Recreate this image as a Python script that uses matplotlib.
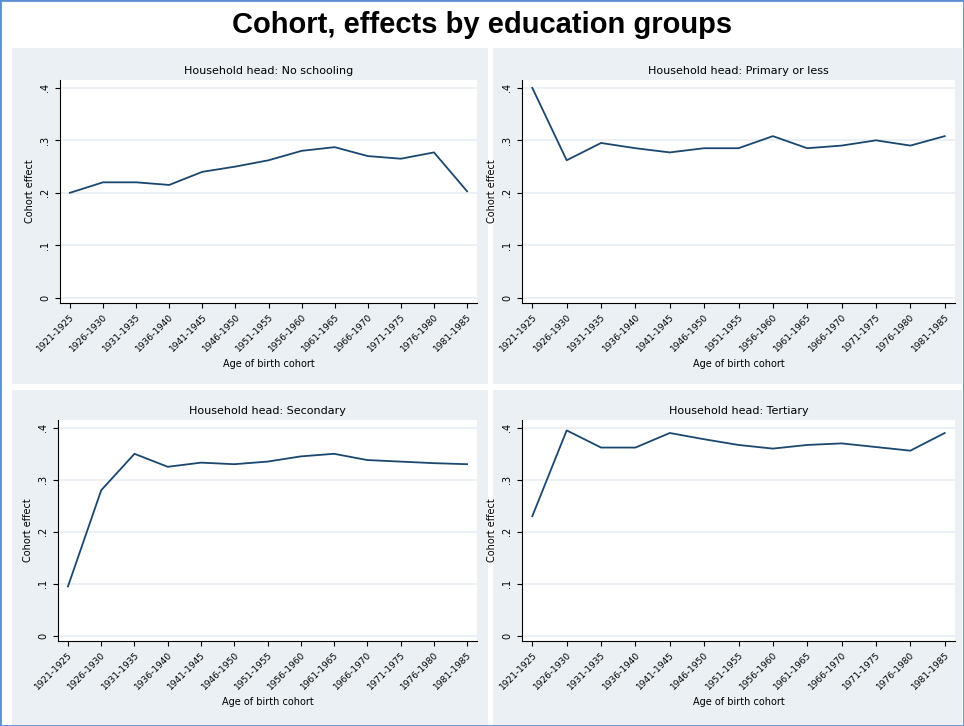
import matplotlib
matplotlib.use("Agg")
import matplotlib.pyplot as plt
from matplotlib.patches import Rectangle

cohorts = ["1921-1925", "1926-1930", "1931-1935", "1936-1940", "1941-1945",
           "1946-1950", "1951-1955", "1956-1960", "1961-1965", "1966-1970",
           "1971-1975", "1976-1980", "1981-1985"]

titles = ["Household head: No schooling", "Household head: Primary or less",
          "Household head: Secondary", "Household head: Tertiary"]

no_schooling = [0.200, 0.220, 0.220, 0.215, 0.240, 0.250, 0.262, 0.280, 0.287, 0.270, 0.265, 0.277, 0.203]
primary = [0.400, 0.262, 0.295, 0.285, 0.277, 0.285, 0.285, 0.308, 0.285, 0.290, 0.300, 0.290, 0.308]
secondary = [0.095, 0.280, 0.350, 0.325, 0.333, 0.330, 0.335, 0.345, 0.350, 0.338, 0.335, 0.332, 0.330]
tertiary = [0.230, 0.395, 0.362, 0.362, 0.390, 0.378, 0.367, 0.360, 0.367, 0.370, 0.363, 0.356, 0.390]

series = [no_schooling, primary, secondary, tertiary]
yticks = [0, 0.1, 0.2, 0.3, 0.4]
yticklabels = ["0", ".1", ".2", ".3", ".4"]

W, H = 964, 726
fig = plt.figure(figsize=(9.64, 7.26), dpi=100)
fig.patch.set_facecolor("white")

bg = "#eaf0f3"
# panel backgrounds (pixel boxes: x0, y0, x1, y1)
panels = [(12, 48, 488, 384), (493, 48, 962, 384), (12, 390, 488, 726), (493, 390, 962, 726)]
for x0, y0, x1, y1 in panels:
    fig.patches.append(Rectangle((x0 / W, 1 - y1 / H), (x1 - x0) / W, (y1 - y0) / H,
                                 transform=fig.transFigure, facecolor=bg, edgecolor="none", zorder=-10))
fig.patches.append(Rectangle((0, 0), 1, 1, transform=fig.transFigure, facecolor="none",
                             edgecolor="#5b8fd0", linewidth=2, zorder=-10))

fig.text(0.5, 0.965, "Cohort, effects by education groups", ha="center", va="center",
         fontsize=21, fontweight="bold", family="Liberation Sans")

boxes = [(60, 80, 477, 303), (522, 80, 955, 303), (58, 420, 477, 641), (522, 420, 955, 641)]
for (x0, y0, x1, y1), title, vals in zip(boxes, titles, series):
    ax = fig.add_axes([x0 / W, 1 - y1 / H, (x1 - x0) / W, (y1 - y0) / H])
    ax.plot(range(len(cohorts)), vals, color="#1a476f", linewidth=1.3)
    ax.set_ylim(-0.01, 0.415)
    ax.set_xlim(-0.3, len(cohorts) - 0.7)
    ax.set_yticks(yticks)
    ax.set_yticklabels(yticklabels, rotation=90, va="center", fontsize=7)
    ax.set_xticks(range(len(cohorts)))
    ax.set_xticklabels(cohorts, rotation=45, ha="right", fontsize=6.5, rotation_mode="anchor")
    ax.grid(axis="y", color="#e6eef1", linewidth=1.2)
    ax.set_axisbelow(True)
    for s in ["top", "right"]:
        ax.spines[s].set_visible(False)
    ax.set_title(title, fontsize=8, pad=4)
    ax.set_ylabel("Cohort effect", fontsize=7)
    ax.set_xlabel("Age of birth cohort", fontsize=7, labelpad=4)

fig.savefig("out.png", dpi=100)
